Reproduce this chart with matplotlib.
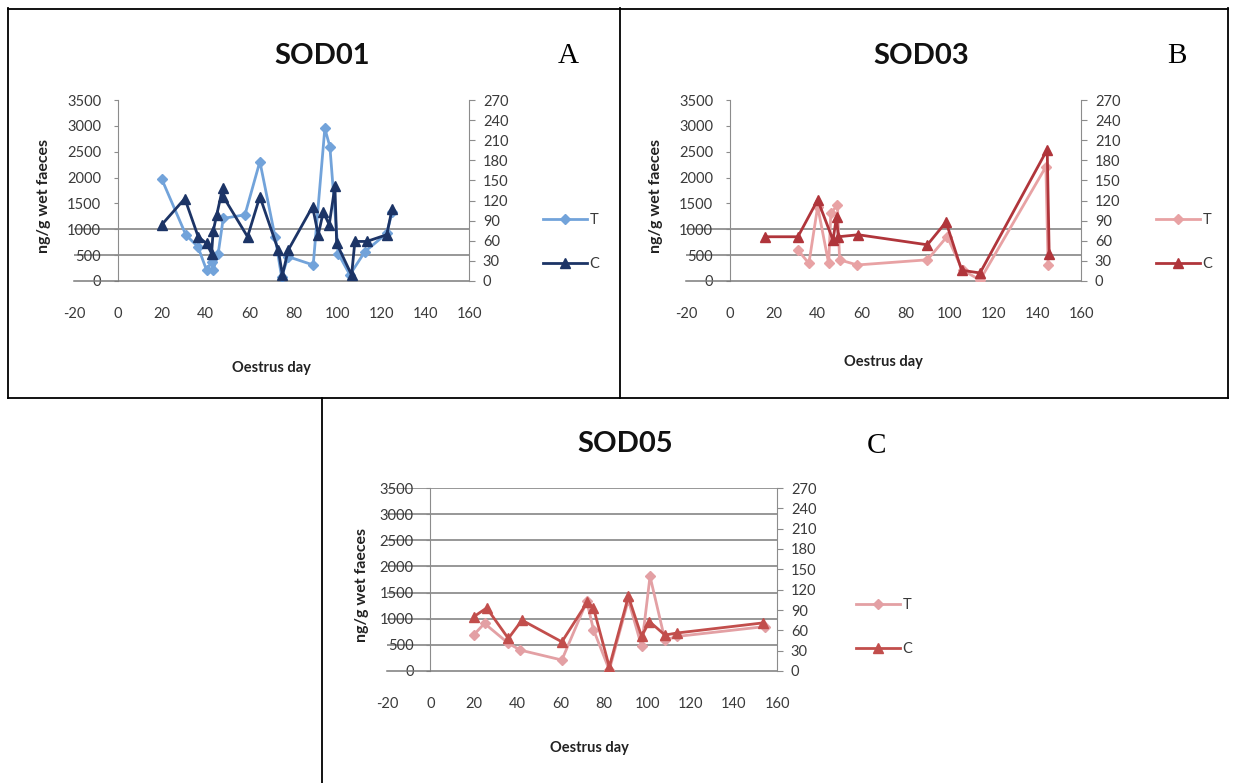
import matplotlib
matplotlib.use("Agg")
import matplotlib.pyplot as plt
from matplotlib.lines import Line2D

plt.rcParams['font.family'] = ['Lato', 'DejaVu Sans']

# ---- data -------------------------------------------------------------
# SOD01
a_t_day = [20, 31, 36.5, 40.4, 42.7, 43.4, 45.7, 48, 57.9, 64.7, 71.6, 74.6, 77.6,
           89, 94.3, 96.6, 100.4, 105.7, 112.6, 122.5, 125]
a_t_val = [1970, 890, 660, 210, 370, 210, 530, 1210, 1280, 2310, 860, 80, 470,
           310, 2950, 2600, 530, 120, 570, 920, 1340]
a_c_day = [20, 30.5, 36.6, 40.4, 42.7, 43.4, 45, 47.7, 48, 59.1, 64.7, 73.1, 75,
           77.6, 88.7, 91.3, 93.6, 96.3, 98.9, 99.7, 106.5, 108, 113.4, 122.5, 125]
a_c_val = [84, 123, 66, 56, 41, 74, 98, 138, 126, 66, 126, 46, 9,
           46, 111, 69, 103, 84, 141, 56, 9, 59, 59, 69, 108]

# SOD03
b_t_day = [31, 36, 40, 45, 46, 49, 50, 58, 90, 99, 106, 114, 144, 145]
b_t_val = [600, 340, 1440, 340, 1310, 1470, 410, 310, 410, 860, 210, 20, 2210, 310]
b_c_day = [16, 31, 40, 47, 48.6, 49.4, 58.5, 90, 98.5, 105.6, 114, 144.6, 145.5]
b_c_val = [66, 66, 121, 61, 96, 66, 69, 54, 88, 16, 12, 196, 41]

# SOD05
c_t_day = [20, 25, 36, 41.5, 60.7, 72.2, 75.3, 82.6, 91.4, 97.5, 101.4, 108.3, 113.7, 154.4]
c_t_val = [690, 910, 530, 400, 210, 1330, 790, 20, 1360, 470, 1810, 590, 660, 850]
c_c_day = [20, 26, 36, 42.3, 60.7, 72.5, 75.3, 82.6, 91.4, 97.5, 101.1, 108.3, 113.7, 153.6]
c_c_val = [80, 93, 48, 75, 43, 102, 93, 6, 110, 51, 73, 53, 56, 71]

x_ticks = [-20, 0, 20, 40, 60, 80, 100, 120, 140, 160]
x_tick_labels = ['-20', '0', '20', '40', '60', '80', '100', '120', '140', '160']
left_ticks = [0, 500, 1000, 1500, 2000, 2500, 3000, 3500]
right_ticks = [0, 30, 60, 90, 120, 150, 180, 210, 240, 270]
series_names = ['T', 'C']

W, H = 1235, 783
fig = plt.figure(figsize=(W / 100, H / 100), dpi=100)
fig.patch.set_facecolor('white')

AX_GREY = '#8c8c8c'
TXT = '#3a3a3a'


def px_rect(x0, x1, ytop, ybot):
    return [x0 / W, 1 - ybot / H, (x1 - x0) / W, (ybot - ytop) / H]


def panel(rect, title, tag, title_xy, tag_xy, t_day, t_val, c_day, c_val,
          t_col, c_col, grid_vals, leg_xy, ylab_xy, xlab_xy):
    ax = fig.add_axes(rect)
    ax.set_xlim(-20, 160)
    ax.set_ylim(0, 3500)
    ax.set_facecolor('none')
    for v in grid_vals:
        ax.axhline(v, color='#7a7a7a', lw=1.1, zorder=1)
    ax.spines['top'].set_visible(False)
    ax.spines['right'].set_visible(False)
    ax.spines['left'].set_position(('data', 0))
    ax.spines['left'].set_color(AX_GREY)
    ax.spines['bottom'].set_color('#7a7a7a')
    ax.spines['bottom'].set_linewidth(1.1)
    ax.set_xticks(x_ticks)
    ax.set_xticklabels(x_tick_labels)
    ax.set_yticks(left_ticks)
    ax.tick_params(axis='x', length=0, pad=19, labelsize=10.5, colors=TXT)
    ax.tick_params(axis='y', length=3, pad=9, labelsize=10.5, colors=TXT,
                   color=AX_GREY)

    ax.plot(t_day, t_val, color=t_col, lw=2.0, marker='D', ms=5.5,
            mfc=t_col, mec=t_col, zorder=3)

    ax2 = ax.twinx()
    ax2.set_ylim(0, 270)
    ax2.set_yticks(right_ticks)
    for s in ['top', 'left', 'bottom']:
        ax2.spines[s].set_visible(False)
    ax2.spines['right'].set_color(AX_GREY)
    ax2.tick_params(axis='y', length=4, pad=6, labelsize=10.5, colors=TXT,
                    color=AX_GREY)
    ax2.plot(c_day, c_val, color=c_col, lw=2.0, marker='^', ms=7.5,
             mfc=c_col, mec=c_col, zorder=4)

    ax.text(*ylab_xy, 'ng/g wet faeces', rotation=90, transform=ax.transAxes,
            ha='center', va='center', fontsize=11.5, fontweight='bold', color='#222222')
    ax.text(*xlab_xy, 'Oestrus day', transform=ax.transAxes, ha='center',
            va='center', fontsize=10.5, fontweight='bold', color='#222222')

    fig.text(title_xy[0] / W, 1 - title_xy[1] / H, title, ha='center', va='center',
             fontsize=21, fontweight='bold', color='#111111')
    fig.text(tag_xy[0] / W, 1 - tag_xy[1] / H, tag, ha='center', va='center',
             fontsize=21, family='Liberation Serif', color='black')

    handles = [Line2D([], [], color=t_col, lw=2.0, marker='D', ms=5, mfc=t_col, mec=t_col),
               Line2D([], [], color=c_col, lw=2.0, marker='^', ms=7, mfc=c_col, mec=c_col)]
    fig.legend(handles, series_names, loc='center left',
               bbox_to_anchor=(leg_xy[0] / W, 1 - leg_xy[1] / H),
               frameon=False, handlelength=3.0, handletextpad=0.2,
               labelspacing=2.1, fontsize=10.5, borderpad=0, borderaxespad=0,
               labelcolor=TXT)
    return ax, ax2


panel(px_rect(74, 469, 100, 281), 'SOD01', 'A', (322, 56), (568, 56),
      a_t_day, a_t_val, a_c_day, a_c_val, '#72a3da', '#1c3466',
      [500, 1000], (543, 242), (-0.075, 0.47), (0.5, -0.48))

panel(px_rect(686, 1081, 100, 281), 'SOD03', 'B', (921, 56), (1177, 56),
      b_t_day, b_t_val, b_c_day, b_c_val, '#e8a2a4', '#b0353b',
      [500, 1000], (1156, 242), (-0.075, 0.47), (0.5, -0.45))

panel(px_rect(387, 777, 488, 671), 'SOD05', 'C', (625, 444), (877, 446),
      c_t_day, c_t_val, c_c_day, c_c_val, '#e3a0a4', '#c24e4c',
      left_ticks[1:], (856, 627), (-0.065, 0.47), (0.52, -0.42))

# panel frames
frame_lines = [
    ((8, 1228), (9, 9)),
    ((8, 8), (8, 398)),
    ((620, 620), (8, 398)),
    ((1228, 1228), (8, 398)),
    ((8, 1228), (398, 398)),
    ((322, 322), (398, 783)),
]
for (xs, ys) in frame_lines:
    fig.add_artist(Line2D([x / W for x in xs], [1 - y / H for y in ys],
                          color='black', lw=1.3, transform=fig.transFigure))

fig.savefig('out.png', dpi=100, facecolor='white')
